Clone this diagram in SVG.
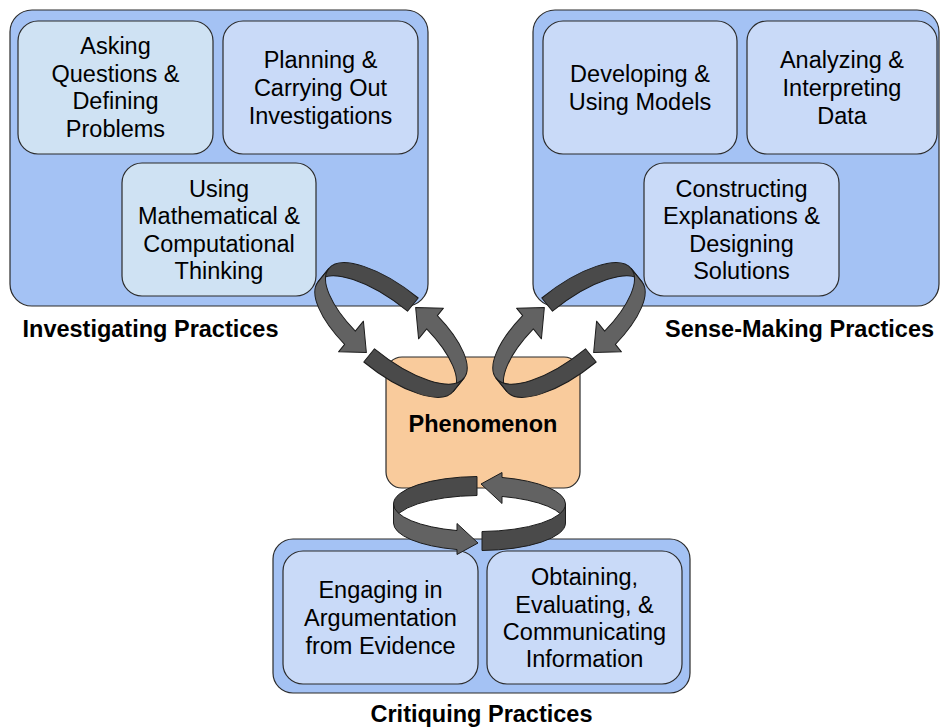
<svg xmlns="http://www.w3.org/2000/svg" width="940" height="727" viewBox="0 0 940 727">
  <style>
    .grp{fill:#a4c2f4;stroke:#2b2b2b;stroke-width:1.2}
    .card{fill:#c9daf8;stroke:#2b2b2b;stroke-width:1.2}
    .pale{fill:#cfe2f3}
    .core{fill:#f9cb9c;stroke:#2b2b2b;stroke-width:1.2}
    text{font-family:"Liberation Sans",Arial,Helvetica,sans-serif;font-size:23.5px;fill:#000;text-anchor:middle}
    .title{font-weight:bold}
    .tail{fill:#4a4a4a;stroke:#1c1c1c;stroke-width:1;stroke-linejoin:round}
    .head{fill:#626262;stroke:#1c1c1c;stroke-width:1;stroke-linejoin:round}
  </style>
  <defs>
    <!-- flat ring (bottom loop): ribbon on an ellipse rx 86, ry 27.5, band height 19 -->
    <path id="ringTailFlat" class="tail" d="M -2.5,-37 A 86 27.5 0 0 0 -86,-9.5 L -86,9.5 A 86 27.5 0 0 1 -2.5,-18 Z"/>
    <path id="ringHeadFlat" class="head" d="M -86,-9.5 A 86 27.5 0 0 0 -22.5,17.04 L -22.5,10 L -1.5,29.5 L -22.5,41 L -22.5,36.04 A 86 27.5 0 0 1 -86,9.5 Z"/>
    <!-- tilted ring (side loops): ellipse rx 87, ry 33.5, band height 17 -->
    <path id="ringTailTilt" class="tail" d="M 1,-42 A 87 33.5 0 0 0 -87,-8.5 L -87,8.5 A 87 33.5 0 0 1 1,-25 Z"/>
    <path id="ringHeadTilt" class="head" d="M -87,-8.5 A 87 33.5 0 0 0 -27,23.35 L -27,10.5 L -5,33 L -27,50 L -27,40.35 A 87 33.5 0 0 1 -87,8.5 Z"/>
  </defs>

  <rect x="0" y="0" width="940" height="727" fill="#ffffff"/>

  <!-- Investigating practices -->
  <g id="investigating">
    <rect class="grp" x="10" y="10" width="418" height="296" rx="22"/>
    <text class="title" x="150.5" y="337">Investigating Practices</text>
  </g>
  <g id="asking">
    <rect class="card pale" x="18" y="21" width="195" height="133" rx="20"/>
    <text x="115.5" y="54">Asking<tspan x="115.5" y="81.6">Questions &amp;</tspan><tspan x="115.5" y="109.2">Defining</tspan><tspan x="115.5" y="136.8">Problems</tspan></text>
  </g>
  <g id="planning">
    <rect class="card" x="223" y="21" width="195" height="133" rx="20"/>
    <text x="320.5" y="68.3">Planning &amp;<tspan x="320.5" y="96">Carrying Out</tspan><tspan x="320.5" y="123.5">Investigations</tspan></text>
  </g>
  <g id="using-math">
    <rect class="card pale" x="122" y="163" width="194" height="133" rx="20"/>
    <text x="219" y="196.5">Using<tspan x="219" y="224">Mathematical &amp;</tspan><tspan x="219" y="251.5">Computational</tspan><tspan x="219" y="279">Thinking</tspan></text>
  </g>

  <!-- Sense-making practices -->
  <g id="sense-making">
    <rect class="grp" x="533" y="10" width="406" height="296" rx="22"/>
    <text class="title" x="799.5" y="337">Sense-Making Practices</text>
  </g>
  <g id="developing">
    <rect class="card" x="543" y="21" width="194" height="133" rx="20"/>
    <text x="640" y="82">Developing &amp;<tspan x="640" y="109.5">Using Models</tspan></text>
  </g>
  <g id="analyzing">
    <rect class="card" x="747" y="21" width="190" height="133" rx="20"/>
    <text x="842" y="68.3">Analyzing &amp;<tspan x="842" y="96">Interpreting</tspan><tspan x="842" y="123.5">Data</tspan></text>
  </g>
  <g id="constructing">
    <rect class="card" x="644" y="163" width="195" height="133" rx="20"/>
    <text x="741.5" y="196.5">Constructing<tspan x="741.5" y="224">Explanations &amp;</tspan><tspan x="741.5" y="251.5">Designing</tspan><tspan x="741.5" y="279">Solutions</tspan></text>
  </g>

  <!-- Phenomenon -->
  <g id="phenomenon">
    <rect class="core" x="386" y="357" width="194" height="131" rx="16"/>
    <text class="title" x="483" y="432">Phenomenon</text>
  </g>

  <!-- Critiquing practices -->
  <g id="critiquing">
    <rect class="grp" x="273" y="539" width="417" height="154" rx="20"/>
    <text class="title" x="481.5" y="722">Critiquing Practices</text>
  </g>
  <g id="engaging">
    <rect class="card" x="283" y="551" width="195" height="133" rx="20"/>
    <text x="380.5" y="598.3">Engaging in<tspan x="380.5" y="626">Argumentation</tspan><tspan x="380.5" y="653.5">from Evidence</tspan></text>
  </g>
  <g id="obtaining">
    <rect class="card" x="487" y="551" width="195" height="133" rx="20"/>
    <text x="584.5" y="585">Obtaining,<tspan x="584.5" y="612.5">Evaluating, &amp;</tspan><tspan x="584.5" y="640">Communicating</tspan><tspan x="584.5" y="667">Information</tspan></text>
  </g>

  <!-- cycle arrows between the practice groups and the phenomenon -->
  <g id="connectors">
    <g id="cycle-investigating" transform="translate(391,330) rotate(39)">
      <use href="#ringTailTilt"/>
      <use href="#ringHeadTilt"/>
      <use href="#ringHeadTilt" transform="rotate(180)"/>
      <use href="#ringTailTilt" transform="rotate(180)"/>
    </g>
    <g id="cycle-sense-making" transform="translate(569,330) scale(-1,1) rotate(39)">
      <use href="#ringTailTilt"/>
      <use href="#ringHeadTilt"/>
      <use href="#ringHeadTilt" transform="rotate(180)"/>
      <use href="#ringTailTilt" transform="rotate(180)"/>
    </g>
    <g id="cycle-critiquing" transform="translate(479.5,513.5)">
      <use href="#ringTailFlat"/>
      <use href="#ringHeadFlat"/>
      <use href="#ringHeadFlat" transform="rotate(180)"/>
      <use href="#ringTailFlat" transform="rotate(180)"/>
    </g>
  </g>
</svg>
